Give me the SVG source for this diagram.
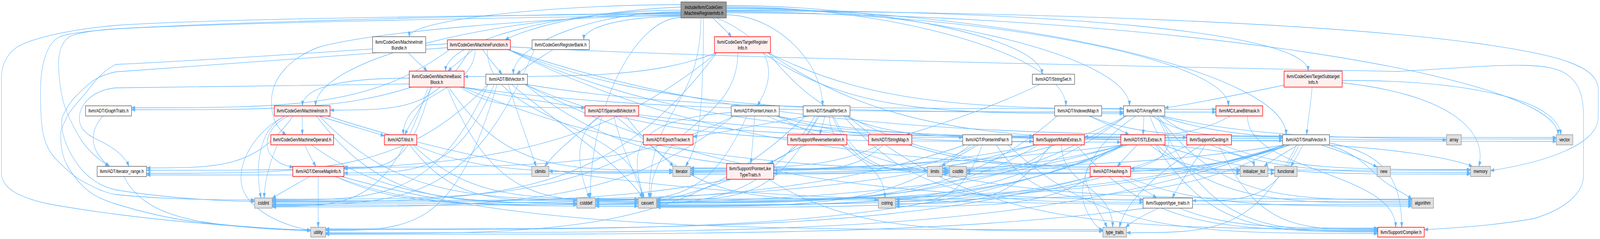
<svg xmlns="http://www.w3.org/2000/svg" width="5536" height="612" viewBox="0 0 5536 612">
<defs>
<marker id="a" viewBox="0 0 13 9" refX="13" refY="4.5" markerWidth="13" markerHeight="9" markerUnits="userSpaceOnUse" orient="auto"><path d="M0,0 L13,4.5 L0,9 z" fill="#63B8FF" stroke="#63B8FF" stroke-width="1"/></marker>
</defs>
<style>
#edges path{fill:none;stroke:#63B8FF;stroke-width:1.3;marker-end:url(#a)}
.nd text{font-family:"Liberation Sans",Arial,Helvetica,sans-serif;font-size:13.33px;text-anchor:middle;fill:#000000}
.nd rect{stroke-width:1.3;vector-effect:non-scaling-stroke}
.root rect{fill:#999999;stroke:#666666}
.red rect{fill:#FFF0F0;stroke:#FF0000}
.wht rect{fill:#FFFFFF;stroke:#666666}
.sys rect{fill:#E0E0E0;stroke:#999999}
</style>
<rect x="0" y="0" width="5536" height="612" fill="#FFFFFF"/>
<g id="diagram" transform="scale(0.73988 1)">
<g id="edges">
<path d="M2513,20 C3211,20 3908,146 3908,271"/>
<path d="M2356,30 C2066,30 1776,110 1776,190"/>
<path d="M2513,17 C3101,17 3688,144 3688,271"/>
<path d="M2480,46 C2680,110 2690,190 2620,271"/>
<path d="M2513,38 C2680,38 2846,155 2846,271"/>
<path d="M2513,22 C3482,22 4450,184 4450,345"/>
<path d="M2513,14 C3059,14 3605,102 3605,190"/>
<path d="M2356,40 C1600,45 700,62 400,74 C320,78 265,85 240,94 C210,110 200,140 203,176 C206,220 215,260 233,290 C250,320 265,340 283,361 C310,390 345,410 377,426"/>
<path d="M2356,26 C1949,26 1542,104 1542,182"/>
<path d="M2356,18 C2000,30 1800,80 1748,102"/>
<path d="M2356,34 C1724,34 1092,153 1092,271"/>
<path d="M2356,12 C1886,12 1416,53 1416,94"/>
<path d="M2356,38 C1900,45 1300,80 1102,121 C1000,150 945,200 940,250 C935,300 960,330 990,345"/>
<path d="M2356,42 C2150,42 2020,70 2020,102"/>
<path d="M2466,46 C2490,63 2515,80 2531,94"/>
<path d="M2513,26 C3600,26 4526,80 4526,182"/>
<path d="M2513,30 C3400,30 4250,150 4250,271"/>
<path d="M2425,46 C2425,277 2246,277 2246,507"/>
<path d="M2356,45 C2199,45 2042,276 2042,507"/>
<path d="M2356,32 C1600,40 700,60 400,74 C300,80 240,85 207,94 C160,110 140,170 140,235 C140,280 142,310 147,333 C155,370 175,395 200,412 C230,435 260,455 300,470 C340,485 370,495 400,498 C550,510 750,512 881,512"/>
<path d="M2434,46 C2434,330 2410,380 2372,426"/>
<path d="M2513,28 C3600,30 4600,60 5100,110 C5400,140 5530,170 5530,230 L5530,300 C5530,370 5350,415 5157,437"/>
<path d="M2356,36 C1500,40 700,50 400,65 C250,75 120,95 60,120 C20,140 5,170 5,200 L5,443 C5,480 60,505 167,522 C300,540 500,560 700,572 C850,582 1000,588 1075,591"/>
<path d="M2513,33 C3952,33 5391,189 5391,345"/>
<path d="M1413,135 C1430,150 1460,168 1478,182"/>
<path d="M1637,127 C1610,145 1575,165 1550,182"/>
<path d="M1670,127 C1690,150 1715,170 1737,190"/>
<path d="M1758,127 C2290,287 2823,287 3887,287"/>
<path d="M1556,127 C1281,276 1006,276 455,276"/>
<path d="M1758,127 C2428,354 3098,354 4438,354"/>
<path d="M1644,127 C1644,236 1395,236 1395,345"/>
<path d="M1626,127 C1505,282 1384,282 1142,282"/>
<path d="M1766,120 C2500,150 4000,170 4836,183 C5150,170 5349,152 5420,190 C5470,215 5479,254 5479,300 L5479,449 C5479,500 5400,540 5305,560 C5150,580 5000,585 4928,588"/>
<path d="M1686,127 C1686,317 2221,317 2221,507"/>
<path d="M1548,122 C1200,140 700,170 400,184 C350,192 320,205 300,220 C270,240 245,258 233,275 C220,292 213,300 213,314 C213,360 260,430 327,463 C350,475 375,482 400,486 C550,505 750,515 881,516"/>
<path d="M1758,127 C2591,436 3423,436 5088,436"/>
<path d="M1548,112 C1200,130 700,155 400,165 C360,180 330,205 300,235 C270,262 245,280 233,298 C218,320 210,330 210,345 C210,380 218,405 233,424 C260,460 300,490 333,502 C360,512 380,518 400,522 C500,545 600,562 700,570 C850,582 1000,588 1075,589"/>
<path d="M1758,127 C2665,352 3572,352 5385,352"/>
<path d="M1913,127 C1870,148 1820,170 1788,190"/>
<path d="M1849,127 C1622,524 1396,524 942,524"/>
<path d="M2639,135 C2951,291 3263,291 3887,291"/>
<path d="M2658,135 C3103,360 3548,360 4438,360"/>
<path d="M2480,135 C1987,436 1494,436 507,436"/>
<path d="M2480,135 C2262,196 2043,196 1606,196"/>
<path d="M2658,135 C3045,280 3433,280 4207,280"/>
<path d="M2658,135 C2887,352 3117,352 3575,352"/>
<path d="M2553,135 C2553,321 2251,321 2251,507"/>
<path d="M2480,135 C2096,516 1711,516 942,516"/>
<path d="M1491,223 C1415,432 1340,432 1190,432"/>
<path d="M1424,223 C1182,281 940,281 455,281"/>
<path d="M1592,223 C1700,276 1808,276 2024,276"/>
<path d="M1494,223 C1460,270 1425,310 1400,345"/>
<path d="M1416,215 C1000,220 500,222 400,225 C330,230 280,260 275,298 C272,325 290,340 330,355 C380,372 430,395 446,426"/>
<path d="M1416,200 C1200,200 1050,220 1046,271"/>
<path d="M1598,223 C2250,287 2903,287 4207,287"/>
<path d="M1547,223 C1712,516 1878,516 2208,516"/>
<path d="M1481,223 C1346,528 1212,528 942,528"/>
<path d="M1553,223 C1747,436 1941,436 2328,436"/>
<path d="M1598,223 C2545,362 3492,362 5385,362"/>
<path d="M1598,223 C2301,444 3004,444 4410,444"/>
<path d="M1817,216 C2335,278 2852,278 3887,278"/>
<path d="M1710,216 C1580,443 1450,443 1190,443"/>
<path d="M1689,216 C1394,444 1098,444 507,444"/>
<path d="M1817,216 C2257,362 2696,362 3575,362"/>
<path d="M1817,216 C2584,516 3351,516 4885,516"/>
<path d="M1770,216 C1900,300 2150,420 2224,507"/>
<path d="M1759,216 C1790,290 1830,370 1855,426"/>
<path d="M1689,216 C1502,512 1316,512 942,512"/>
<path d="M1817,216 C2184,436 2551,436 3285,436"/>
<path d="M1720,216 C1572,590 1424,590 1127,590"/>
<path d="M3598,216 C3450,270 3250,320 3135,345"/>
<path d="M4443,218 C4300,240 4100,270 4030,276"/>
<path d="M4540,223 C4535,270 4525,310 4521,345"/>
<path d="M4644,212 C5000,240 5150,330 5117,426"/>
<path d="M4644,206 C5100,205 5395,260 5400,345"/>
<path d="M357,297 C315,330 300,380 379,426"/>
<path d="M1046,297 C1046,315 1046,330 1046,345"/>
<path d="M999,297 C930,320 905,370 940,400 C965,420 990,425 1015,428"/>
<path d="M1104,297 C1180,315 1260,332 1330,348"/>
<path d="M1014,297 C887,430 761,430 507,430"/>
<path d="M1134,297 C2071,524 3009,524 4885,524"/>
<path d="M1105,297 C1381,512 1657,512 2208,512"/>
<path d="M1095,297 C1320,520 1546,520 1996,520"/>
<path d="M981,299 C900,330 880,420 903,507"/>
<path d="M986,297 C870,340 800,440 850,500 C900,555 1000,580 1075,590"/>
<path d="M2202,297 C2545,348 2889,348 3575,348"/>
<path d="M2124,297 C2150,380 2200,450 2228,507"/>
<path d="M2079,297 C2000,340 1920,390 1885,426"/>
<path d="M2165,297 C2384,512 2602,512 3039,512"/>
<path d="M2129,297 C2200,340 2280,390 2330,426"/>
<path d="M2075,297 C1990,340 1990,420 2040,507"/>
<path d="M2611,297 C2608,340 2602,380 2598,419"/>
<path d="M2538,297 C2201,428 1864,428 1190,428"/>
<path d="M2653,297 C2823,352 2992,352 3331,352"/>
<path d="M2688,297 C2986,364 3283,364 3878,364"/>
<path d="M2688,297 C3043,352 3397,352 4106,352"/>
<path d="M2688,297 C3237,510 3787,510 4885,510"/>
<path d="M2530,288 C2300,300 2200,340 2205,420 C2208,460 2220,490 2229,507"/>
<path d="M2584,297 C2453,514 2322,514 2060,514"/>
<path d="M2538,297 C2139,530 1740,530 942,530"/>
<path d="M2854,297 C2849,315 2842,330 2836,345"/>
<path d="M2800,297 C2650,315 2500,340 2398,350"/>
<path d="M2933,297 C3392,586 3850,586 4767,586"/>
<path d="M2919,297 C3178,518 3437,518 3955,518"/>
<path d="M2829,297 C2690,512 2551,512 2272,512"/>
<path d="M2820,297 C2630,524 2440,524 2060,524"/>
<path d="M2883,297 C2984,442 3084,442 3285,442"/>
<path d="M2870,297 C2870,402 3062,402 3062,507"/>
<path d="M2933,297 C3273,434 3612,434 4291,434"/>
<path d="M2835,297 C2724,436 2612,436 2389,436"/>
<path d="M2879,297 C2962,436 3044,436 3209,436"/>
<path d="M2787,297 C2372,598 1957,598 1127,598"/>
<path d="M3768,297 C3820,315 3870,330 3906,345"/>
<path d="M3770,297 C3937,348 4104,348 4438,348"/>
<path d="M3658,297 C3312,520 2965,520 2272,520"/>
<path d="M3958,297 C3957,315 3956,330 3955,345"/>
<path d="M3987,297 C4050,320 4070,380 4000,410 C3960,425 3940,430 3912,432"/>
<path d="M3986,297 C4099,350 4212,350 4438,350"/>
<path d="M4003,297 C4194,592 4385,592 4767,592"/>
<path d="M4006,297 C4226,512 4446,512 4885,512"/>
<path d="M4012,297 C4260,358 4509,358 5005,358"/>
<path d="M3896,297 C3490,526 3084,526 2272,526"/>
<path d="M3896,297 C3437,518 2978,518 2060,518"/>
<path d="M3978,297 C4056,444 4135,444 4291,444"/>
<path d="M3896,297 C3519,442 3143,442 2389,442"/>
<path d="M4016,297 C4284,442 4552,442 5088,442"/>
<path d="M3930,297 C3760,380 3720,480 3760,540 C3780,570 3800,585 3816,590"/>
<path d="M4022,297 C4362,356 4703,356 5385,356"/>
<path d="M4316,297 C4316,440 4829,440 4829,582"/>
<path d="M4257,297 C4131,350 4005,350 3752,350"/>
<path d="M1055,371 C1065,390 1080,410 1093,426"/>
<path d="M1077,371 C1360,522 1643,522 2208,522"/>
<path d="M960,371 C930,420 915,470 914,507"/>
<path d="M1429,371 C1624,510 1819,510 2208,510"/>
<path d="M1418,371 C1563,514 1707,514 1996,514"/>
<path d="M1434,371 C1658,442 1881,442 2328,442"/>
<path d="M2242,371 C1917,510 1592,510 942,510"/>
<path d="M2790,371 C2740,385 2690,405 2663,419"/>
<path d="M3056,371 C2961,436 2867,436 2677,436"/>
<path d="M3143,371 C3430,438 3717,438 4291,438"/>
<path d="M3044,371 C2880,430 2717,430 2389,430"/>
<path d="M3488,371 C3808,598 4128,598 4767,598"/>
<path d="M3375,371 C3201,444 3026,444 2677,444"/>
<path d="M3447,371 C3574,512 3701,512 3955,512"/>
<path d="M3357,371 C3086,529 2815,529 2272,529"/>
<path d="M3339,371 C2740,522 2141,522 942,522"/>
<path d="M3399,371 C3324,516 3249,516 3099,516"/>
<path d="M3385,371 C3340,390 3290,410 3258,426"/>
<path d="M3723,371 C3984,590 4245,590 4767,590"/>
<path d="M3593,371 C3263,518 2933,518 2272,518"/>
<path d="M3584,371 C3163,439 2742,439 1899,439"/>
<path d="M3584,371 C2924,514 2263,514 942,514"/>
<path d="M3634,371 C3500,522 3367,522 3099,522"/>
<path d="M3642,371 C3547,440 3452,440 3261,440"/>
<path d="M3673,371 C3673,477 3850,477 3850,582"/>
<path d="M3935,371 C3910,390 3885,410 3866,426"/>
<path d="M3887,371 C3041,448 2197,448 507,448"/>
<path d="M3999,371 C4191,594 4383,594 4767,594"/>
<path d="M4003,371 C4224,520 4444,520 4885,520"/>
<path d="M3887,371 C3483,514 3080,514 2272,514"/>
<path d="M3887,371 C3430,528 2974,528 2060,528"/>
<path d="M3887,371 C3151,526 2415,526 942,526"/>
<path d="M3887,371 C3751,436 3616,436 3344,436"/>
<path d="M3979,371 C4087,436 4195,436 4410,436"/>
<path d="M4020,371 C4150,380 4330,390 4340,426"/>
<path d="M3887,371 C3513,446 3138,446 2389,446"/>
<path d="M3887,371 C3731,432 3574,432 3261,432"/>
<path d="M4023,371 C4289,446 4556,446 5088,446"/>
<path d="M3902,371 C3790,395 3740,430 3760,470 C3780,520 3815,555 3830,582"/>
<path d="M3887,371 C3197,588 2507,588 1127,588"/>
<path d="M4217,371 C4355,588 4492,588 4767,588"/>
<path d="M4170,371 C4130,420 4080,470 4056,507"/>
<path d="M4115,371 C3654,531 3194,531 2272,531"/>
<path d="M4230,371 C4445,434 4659,434 5088,434"/>
<path d="M4158,371 C4050,420 3900,500 3873,582"/>
<path d="M4508,371 C4495,390 4480,410 4466,426"/>
<path d="M4490,371 C4450,390 4400,410 4374,426"/>
<path d="M4571,371 C4650,390 4720,410 4765,428"/>
<path d="M4600,372 C4720,400 4740,440 4800,470 C4840,490 4870,500 4885,510"/>
<path d="M4598,366 C4780,390 4850,450 4850,582"/>
<path d="M4495,371 C4403,514 4311,514 4126,514"/>
<path d="M4446,371 C3903,510 3359,510 2272,510"/>
<path d="M4446,371 C3850,510 3253,510 2060,510"/>
<path d="M4464,371 C4184,444 3904,444 3344,444"/>
<path d="M4446,371 C4109,510 3773,510 3099,510"/>
<path d="M4446,371 C3932,432 3418,432 2389,432"/>
<path d="M4460,371 C4160,446 3861,446 3261,446"/>
<path d="M4580,371 C4800,380 5000,400 5095,426"/>
<path d="M4486,371 C4339,596 4192,596 3898,596"/>
<path d="M4446,371 C3616,596 2787,596 1127,596"/>
<path d="M429,452 C470,515 560,550 700,568 C850,585 1000,590 1075,590"/>
<path d="M1101,452 C1101,500 1101,540 1101,582"/>
<path d="M1071,452 C1030,470 980,490 941,508"/>
<path d="M1160,452 C1422,528 1684,528 2208,528"/>
<path d="M1160,452 C1369,524 1578,524 1996,524"/>
<path d="M1181,452 C1840,588 2499,588 3816,588"/>
<path d="M2530,459 C2450,480 2350,505 2272,516"/>
<path d="M2523,459 C2128,518 1732,518 942,518"/>
<path d="M2659,459 C2948,592 3238,592 3816,592"/>
<path d="M3873,452 C3920,470 3970,490 4002,507"/>
<path d="M3896,452 C4143,528 4391,528 4885,528"/>
<path d="M3780,452 C3403,524 3026,524 2272,524"/>
<path d="M3780,452 C3610,528 3440,528 3099,528"/>
<path d="M3780,452 C3117,586 2454,586 1127,586"/>
<path d="M4009,533 C3960,550 3920,565 3895,582"/>
<path d="M4081,533 C4253,584 4424,584 4767,584"/>
<path d="M3964,533 C3255,600 2546,600 1127,600"/>
</g>
<g id="n_root" class="nd root"><rect x="2356" y="5" width="157" height="41"/><text x="2434.5" y="23">include/llvm/CodeGen</text><text x="2434.5" y="38">/MachineRegisterInfo.h</text></g>
<g id="n_mib" class="nd wht"><rect x="1289" y="94" width="184" height="41"/><text x="1381" y="111.7">llvm/CodeGen/MachineInstr</text><text x="1381" y="127.5">Bundle.h</text></g>
<g id="n_mf" class="nd red"><rect x="1548" y="102" width="218" height="25"/><text x="1657" y="119">llvm/CodeGen/MachineFunction.h</text></g>
<g id="n_rb" class="nd wht"><rect x="1841" y="102" width="198" height="25"/><text x="1940" y="119">llvm/CodeGen/RegisterBank.h</text></g>
<g id="n_tri" class="nd red"><rect x="2472" y="94" width="194" height="41"/><text x="2569" y="111.7">llvm/CodeGen/TargetRegister</text><text x="2569" y="127.5">Info.h</text></g>
<g id="n_mbb" class="nd red"><rect x="1416" y="182" width="190" height="41"/><text x="1511" y="199.7">llvm/CodeGen/MachineBasic</text><text x="1511" y="215.5">Block.h</text></g>
<g id="n_bv" class="nd wht"><rect x="1681" y="190" width="144" height="26"/><text x="1753" y="207.5">llvm/ADT/BitVector.h</text></g>
<g id="n_ss" class="nd wht"><rect x="3572" y="190" width="146" height="26"/><text x="3645" y="207.5">llvm/ADT/StringSet.h</text></g>
<g id="n_tsi" class="nd red"><rect x="4443" y="182" width="201" height="41"/><text x="4543.5" y="199.7">llvm/CodeGen/TargetSubtarget</text><text x="4543.5" y="215.5">Info.h</text></g>
<g id="n_gt" class="nd wht"><rect x="296" y="271" width="159" height="26"/><text x="375.5" y="288.5">llvm/ADT/GraphTraits.h</text></g>
<g id="n_mi" class="nd red"><rect x="949" y="271" width="193" height="26"/><text x="1045.5" y="288.5">llvm/CodeGen/MachineInstr.h</text></g>
<g id="n_sbv" class="nd red"><rect x="2024" y="271" width="186" height="26"/><text x="2117" y="288.5">llvm/ADT/SparseBitVector.h</text></g>
<g id="n_pu" class="nd wht"><rect x="2530" y="271" width="166" height="26"/><text x="2613" y="288.5">llvm/ADT/PointerUnion.h</text></g>
<g id="n_sps" class="nd wht"><rect x="2779" y="271" width="162" height="26"/><text x="2860" y="288.5">llvm/ADT/SmallPtrSet.h</text></g>
<g id="n_im" class="nd wht"><rect x="3649" y="271" width="163" height="26"/><text x="3730.5" y="288.5">llvm/ADT/IndexedMap.h</text></g>
<g id="n_ar" class="nd wht"><rect x="3887" y="271" width="143" height="26"/><text x="3958.5" y="288.5">llvm/ADT/ArrayRef.h</text></g>
<g id="n_lb" class="nd red"><rect x="4207" y="271" width="162" height="26"/><text x="4288" y="288.5">llvm/MC/LaneBitmask.h</text></g>
<g id="n_mo" class="nd red"><rect x="937" y="345" width="217" height="26"/><text x="1045.5" y="362.5">llvm/CodeGen/MachineOperand.h</text></g>
<g id="n_il" class="nd red"><rect x="1330" y="345" width="112" height="26"/><text x="1386" y="362.5">llvm/ADT/ilist.h</text></g>
<g id="n_et" class="nd red"><rect x="2226" y="345" width="172" height="26"/><text x="2312" y="362.5">llvm/ADT/EpochTracker.h</text></g>
<g id="n_ri" class="nd red"><rect x="2725" y="345" width="205" height="26"/><text x="2827.5" y="362.5">llvm/Support/ReverseIteration.h</text></g>
<g id="n_sm" class="nd red"><rect x="3005" y="345" width="150" height="26"/><text x="3080" y="362.5">llvm/ADT/StringMap.h</text></g>
<g id="n_pip" class="nd wht"><rect x="3331" y="345" width="170" height="26"/><text x="3416" y="362.5">llvm/ADT/PointerIntPair.h</text></g>
<g id="n_me" class="nd red"><rect x="3575" y="345" width="177" height="26"/><text x="3663.5" y="362.5">llvm/Support/MathExtras.h</text></g>
<g id="n_stl" class="nd red"><rect x="3878" y="345" width="153" height="26"/><text x="3954.5" y="362.5">llvm/ADT/STLExtras.h</text></g>
<g id="n_ca" class="nd red"><rect x="4106" y="345" width="155" height="26"/><text x="4183.5" y="362.5">llvm/Support/Casting.h</text></g>
<g id="n_sv" class="nd wht"><rect x="4438" y="345" width="162" height="26"/><text x="4519" y="362.5">llvm/ADT/SmallVector.h</text></g>
<g id="n_array" class="nd sys"><rect x="5005" y="345" width="51" height="26"/><text x="5030.5" y="362.5">array</text></g>
<g id="n_vector" class="nd sys"><rect x="5385" y="345" width="57" height="26"/><text x="5413.5" y="362.5">vector</text></g>
<g id="n_ir" class="nd wht"><rect x="336" y="426" width="171" height="26"/><text x="421.5" y="443.5">llvm/ADT/iterator_range.h</text></g>
<g id="n_dmi" class="nd red"><rect x="1013" y="426" width="177" height="26"/><text x="1101.5" y="443.5">llvm/ADT/DenseMapInfo.h</text></g>
<g id="n_climits" class="nd sys"><rect x="1840" y="426" width="59" height="26"/><text x="1869.5" y="443.5">climits</text></g>
<g id="n_iterator" class="nd sys"><rect x="2328" y="426" width="61" height="26"/><text x="2358.5" y="443.5">iterator</text></g>
<g id="n_pltt" class="nd red"><rect x="2514" y="419" width="163" height="40"/><text x="2595.5" y="436.5">llvm/Support/PointerLike</text><text x="2595.5" y="452">TypeTraits.h</text></g>
<g id="n_limits" class="nd sys"><rect x="3209" y="426" width="52" height="26"/><text x="3235" y="443.5">limits</text></g>
<g id="n_cstdlib" class="nd sys"><rect x="3285" y="426" width="59" height="26"/><text x="3314.5" y="443.5">cstdlib</text></g>
<g id="n_ha" class="nd red"><rect x="3772" y="426" width="140" height="26"/><text x="3842" y="443.5">llvm/ADT/Hashing.h</text></g>
<g id="n_initlist" class="nd sys"><rect x="4291" y="426" width="96" height="26"/><text x="4339" y="443.5">initializer_list</text></g>
<g id="n_functional" class="nd sys"><rect x="4410" y="426" width="78" height="26"/><text x="4449" y="443.5">functional</text></g>
<g id="n_new" class="nd sys"><rect x="4765" y="426" width="46" height="26"/><text x="4788" y="443.5">new</text></g>
<g id="n_memory" class="nd sys"><rect x="5088" y="426" width="69" height="26"/><text x="5122.5" y="443.5">memory</text></g>
<g id="n_cstdint" class="nd sys"><rect x="881" y="507" width="61" height="26"/><text x="911.5" y="524.5">cstdint</text></g>
<g id="n_cstddef" class="nd sys"><rect x="1996" y="507" width="64" height="26"/><text x="2028" y="524.5">cstddef</text></g>
<g id="n_cassert" class="nd sys"><rect x="2208" y="507" width="64" height="26"/><text x="2240" y="524.5">cassert</text></g>
<g id="n_cstring" class="nd sys"><rect x="3039" y="507" width="60" height="26"/><text x="3069" y="524.5">cstring</text></g>
<g id="n_tt" class="nd wht"><rect x="3955" y="507" width="171" height="26"/><text x="4040.5" y="524.5">llvm/Support/type_traits.h</text></g>
<g id="n_algorithm" class="nd sys"><rect x="4885" y="507" width="75" height="26"/><text x="4922.5" y="524.5">algorithm</text></g>
<g id="n_utility" class="nd sys"><rect x="1075" y="582" width="52" height="25"/><text x="1101" y="599">utility</text></g>
<g id="n_typetraits" class="nd sys"><rect x="3816" y="582" width="82" height="25"/><text x="3857" y="599">type_traits</text></g>
<g id="n_compiler" class="nd red"><rect x="4767" y="582" width="161" height="25"/><text x="4847.5" y="599">llvm/Support/Compiler.h</text></g>
</g>
</svg>
